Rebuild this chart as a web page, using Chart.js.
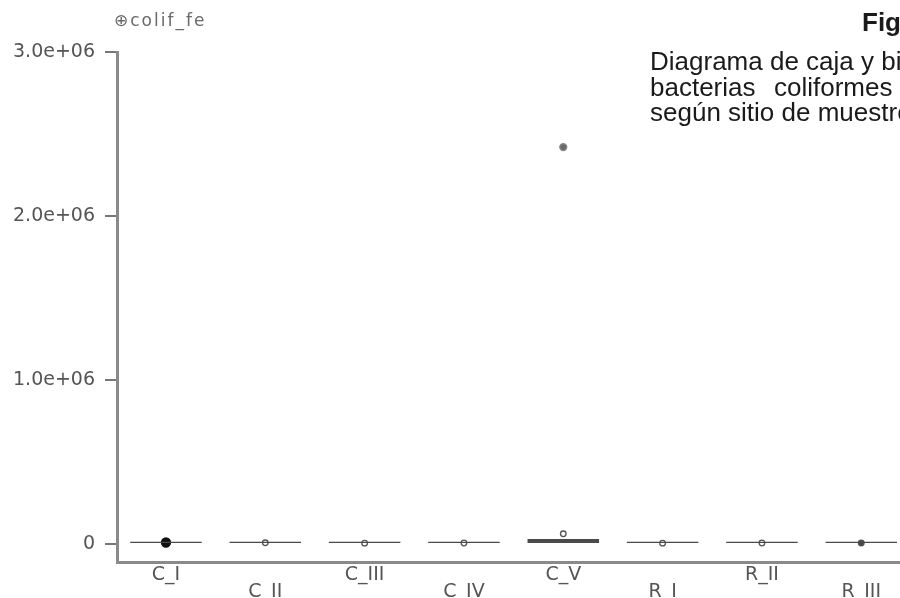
<!DOCTYPE html>
<html>
<head>
<meta charset="utf-8">
<script src="https://cdn.jsdelivr.net/npm/chart.js@4"></script>
<style>
  html, body { margin: 0; padding: 0; background: #fff; overflow: hidden; }
  #wrap { position: relative; width: 900px; height: 598px; overflow: hidden; }
  #varLabel {
    position: absolute; left: 114px; top: 10px; letter-spacing: 2px;
    font: 17px "DejaVu Sans", sans-serif; color: #6a6a6a;
  }
  .cap {
    position: absolute; left: 650px; white-space: nowrap;
    font: 26px "Liberation Sans", Arial, sans-serif; color: #1a1a1a;
  }
  #figTitle { left: 862px; top: 7px; font-weight: bold; }
</style>
</head>
<body>
<div id="wrap">
  <canvas id="boxChart" width="900" height="598"></canvas>
  <div id="varLabel">⊕colif_fe</div>
  <div class="cap" id="figTitle">Figura</div>
  <div class="cap" style="top:46px">Diagrama de caja y bigotes de</div>
  <div class="cap" style="top:72px; word-spacing:2px">bacterias&nbsp; coliformes fecales</div>
  <div class="cap" style="top:97px">según sitio de muestreo</div>
</div>
<script>
// sampling sites
const sites = ["C_I", "C_II", "C_III", "C_IV", "C_V", "R_I", "R_II", "R_III"];
// box limits (q1 / q3), colif_fe
const boxLow = [0, 0, 0, 0, 0, 0, 0, 0];
const boxHigh = [13000, 13000, 13000, 13000, 30000, 13000, 13000, 13000];
// points drawn per site (outliers)
const pointSite = ["C_I", "C_II", "C_III", "C_IV", "C_V", "C_V", "R_I", "R_II", "R_III"];
const pointValue = [9000, 7000, 5000, 6000, 62000, 2420000, 5000, 6000, 6000];
// y axis ticks
const yTicks = [0, 1000000, 2000000, 3000000];

function sciLabel(v) {
  if (v === 0) return "0";
  const exp = Math.floor(Math.log10(v));
  const mant = (v / Math.pow(10, exp)).toFixed(1);
  return mant + "e+" + String(exp).padStart(2, "0");
}

const pos = name => sites.indexOf(name) + 1;

// point look: black for C_I, grey dot for the far outlier, open circles otherwise
const ptRadius = pointValue.map((v, i) => i === 0 ? 4.5 : (v > 1000000 ? 3.5 : 2.8));
const ptFill = pointValue.map((v, i) => i === 0 ? "#111" : (v > 1000000 ? "#6a6a6a" : (i === 8 ? "#444" : "#fff")));
const ptBorder = pointValue.map((v, i) => i === 0 ? "#111" : (v > 1000000 ? "#8a8a8a" : "#555"));

const ctx = document.getElementById("boxChart").getContext("2d");
new Chart(ctx, {
  type: "bar",
  data: {
    datasets: [
      {
        type: "bar",
        label: "caja",
        data: sites.map((s, i) => ({ x: i + 1, y: [boxLow[i], boxHigh[i]] })),
        backgroundColor: "#4a4a4a",
        borderWidth: 0,
        barPercentage: 0.72,
        categoryPercentage: 1
      },
      {
        type: "scatter",
        label: "puntos",
        data: pointSite.map((s, i) => ({ x: pos(s), y: pointValue[i] })),
        pointRadius: ptRadius,
        pointBackgroundColor: ptFill,
        pointBorderColor: ptBorder,
        pointBorderWidth: 1.3
      }
    ]
  },
  options: {
    responsive: false,
    animation: false,
    layout: { autoPadding: false, padding: { top: 52, right: 0, left: 0, bottom: 0 } },
    plugins: { legend: { display: false }, tooltip: { enabled: false } },
    scales: {
      x: {
        type: "linear",
        offset: false,
        min: 0.507,
        max: 8.39,
        afterBuildTicks: axis => { axis.ticks = sites.map((s, i) => ({ value: i + 1 })); },
        afterFit: axis => { axis.height = 36; axis.paddingLeft = 0; axis.paddingRight = 0; },
        grid: { display: false, drawTicks: false, offset: false },
        border: { display: true, color: "#8a8a8a", width: 3 },
        ticks: {
          padding: 4,
          autoSkip: false,
          maxRotation: 0,
          color: "#555",
          font: { family: "DejaVu Sans", size: 19, lineHeight: 0.92 },
          callback: v => {
            const i = Math.round(v) - 1;
            return i % 2 === 0 ? sites[i] : ["", sites[i]];
          }
        }
      },
      y: {
        min: -110000,
        max: 3000000,
        afterBuildTicks: axis => { axis.ticks = yTicks.map(v => ({ value: v })); },
        afterFit: axis => { axis.width = 117; },
        grid: { drawOnChartArea: false, drawTicks: true, tickLength: 12, color: "#777", lineWidth: 2 },
        border: { display: true, color: "#8a8a8a", width: 3 },
        ticks: {
          padding: 10,
          color: "#555",
          font: { family: "DejaVu Sans", size: 19 },
          callback: v => sciLabel(v)
        }
      }
    }
  }
});
</script>
</body>
</html>
